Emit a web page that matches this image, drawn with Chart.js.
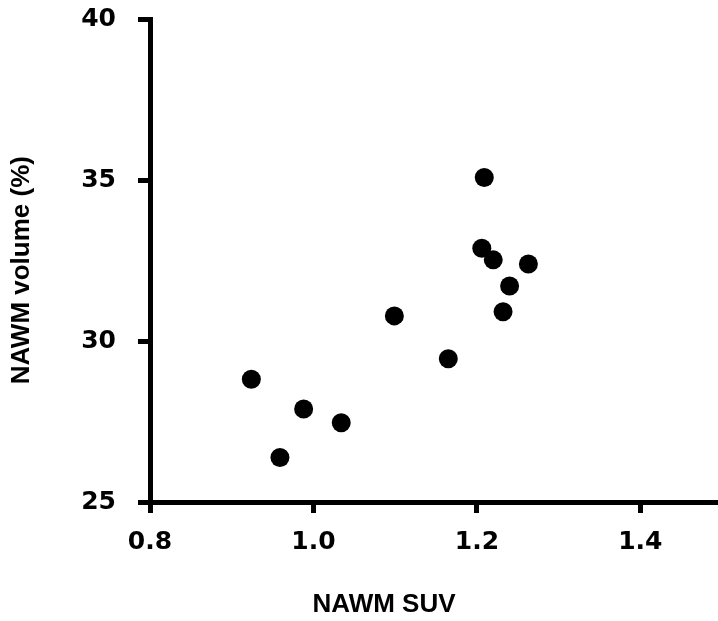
<!DOCTYPE html>
<html>
<head>
<meta charset="utf-8">
<script src="https://cdn.jsdelivr.net/npm/chart.js@4/dist/chart.umd.min.js"></script>
<style>
html,body{margin:0;padding:0;background:#fff;}
#wrap{width:718px;height:621px;position:relative;}
</style>
</head>
<body>
<div id="wrap"><canvas id="c" width="718" height="621"></canvas></div>
<script>
const suvValues = [0.924, 0.959, 0.988, 1.034, 1.099, 1.165, 1.209, 1.206, 1.220, 1.263, 1.240, 1.232];
const volumeValues = [28.81, 26.38, 27.89, 27.46, 30.78, 29.45, 35.08, 32.88, 32.52, 32.39, 31.71, 30.91];
const xTicks = [0.8, 1.0, 1.2, 1.4];
const yTicks = [25, 30, 35, 40];
const xTitle = 'NAWM SUV';
const yTitle = 'NAWM volume (%)';

const points = suvValues.map((x, i) => ({x: x, y: volumeValues[i]}));
const TITLE_FONT = 'bold 26px "Liberation Sans", Arial, Helvetica, sans-serif';
const TICK_FAMILY = '"DejaVu Sans", "Liberation Sans", Arial, sans-serif';

const axisTitles = {
  id: 'axisTitles',
  afterDraw(chart) {
    const ctx = chart.ctx;
    const a = chart.chartArea;
    ctx.save();
    ctx.fillStyle = '#000';
    ctx.font = TITLE_FONT;
    ctx.textAlign = 'center';
    ctx.textBaseline = 'middle';
    ctx.fillText(xTitle, a.left + (a.right - a.left) * 0.412, 605);
    ctx.translate(22, a.top + (a.bottom - a.top) * 0.52);
    ctx.rotate(-Math.PI / 2);
    ctx.fillText(yTitle, 0, 0);
    ctx.restore();
  }
};

new Chart(document.getElementById('c'), {
  type: 'scatter',
  data: {
    datasets: [{
      data: points,
      backgroundColor: '#000',
      borderWidth: 0,
      pointRadius: 9.5,
      pointHoverRadius: 9.5
    }]
  },
  options: {
    responsive: false,
    animation: false,
    events: [],
    layout: {autoPadding: false, padding: {top: 19, right: 0, left: 0, bottom: 0}},
    plugins: {legend: {display: false}, tooltip: {enabled: false}},
    scales: {
      x: {
        type: 'linear',
        min: 0.8,
        max: 1.495,
        afterBuildTicks: s => { s.ticks = xTicks.map(v => ({value: v})); },
        afterFit: s => { s.height = 621 - 502; s.paddingLeft = 0; s.paddingRight = 0; },
        border: {display: true, color: '#000', width: 5},
        grid: {display: true, drawOnChartArea: false, drawTicks: true, tickLength: 11, tickWidth: 5, tickColor: '#000', color: '#000'},
        ticks: {
          color: '#000',
          font: {family: TICK_FAMILY, size: 25, weight: 'bold'},
          padding: 14,
          maxRotation: 0,
          callback: v => Number(v).toFixed(1)
        },
        title: {display: false}
      },
      y: {
        type: 'linear',
        min: 25,
        max: 40,
        afterBuildTicks: s => { s.ticks = yTicks.map(v => ({value: v})); },
        afterFit: s => { s.width = 150; s.paddingTop = 0; s.paddingBottom = 0; },
        border: {display: true, color: '#000', width: 5},
        grid: {display: true, drawOnChartArea: false, drawTicks: true, tickLength: 12, tickWidth: 5, tickColor: '#000', color: '#000'},
        ticks: {
          color: '#000',
          font: {family: TICK_FAMILY, size: 25, weight: 'bold'},
          padding: 22,
          callback: v => String(v)
        },
        title: {display: false}
      }
    }
  },
  plugins: [axisTitles]
});
</script>
</body>
</html>
